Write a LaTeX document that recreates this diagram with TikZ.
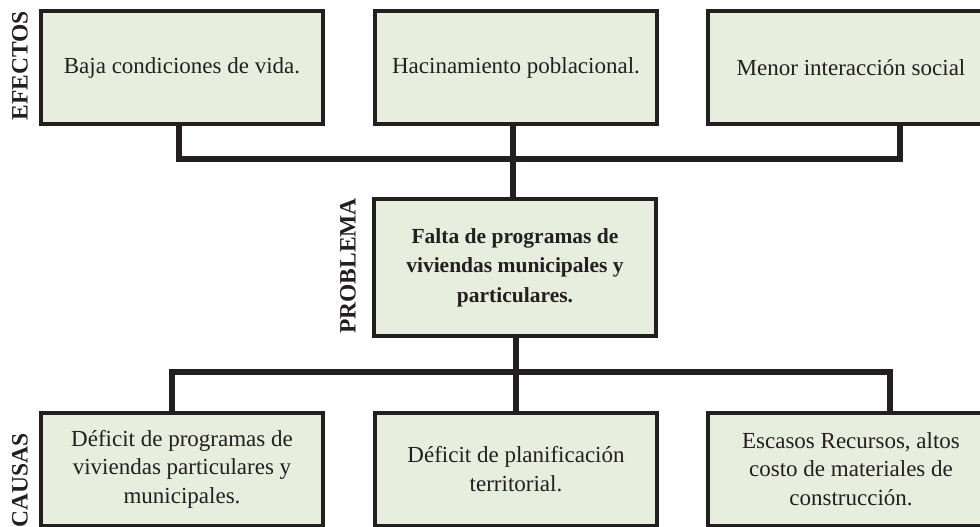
\documentclass[tikz,border=0pt]{standalone}
\usepackage{fontspec}
\setmainfont{Liberation Serif}
\definecolor{boxfill}{RGB}{232,238,222}
\definecolor{ink}{RGB}{35,31,32}
\tikzset{
  box/.style={draw=ink, line width=4pt, fill=boxfill, minimum width=282pt, minimum height=113pt,
    inner sep=0pt, align=center, text=ink, font=\fontsize{23}{28.5}\selectfont},
  probbox/.style={box, minimum height=137pt, font=\bfseries\fontsize{21.5}{29.5}\selectfont},
  conn/.style={draw=ink, line width=6pt, line join=miter},
  connshadow/.style={draw=black, opacity=0.12, line width=6pt, line join=miter},
  sidelabel/.style={rotate=90, inner sep=0pt, text=ink, font=\bfseries\fontsize{23.5}{27}\selectfont},
}
\begin{document}
\begin{tikzpicture}[x=1pt,y=-1pt]
\clip (0,0) rectangle (980,527);

% junction coordinates
\coordinate (a1) at (179,159);
\coordinate (jt) at (513,159);
\coordinate (a3) at (900,159);
\coordinate (b1) at (172,372);
\coordinate (jb) at (516,372);
\coordinate (b3) at (890,372);

% boxes (positions only, drawn later)
\path
  node[box] (e1) at (182,67.5) {Baja condiciones de vida.}
  node[box] (e2) at (516,67.5) {Hacinamiento poblacional.}
  node[box, minimum width=287pt] (e3) at (851,67.5) {Menor interacción social}
  node[probbox] (prob) at (515,267.5) {Falta de programas de\\ viviendas municipales y\\ particulares.}
  node[box] (c1) at (182,469) {Déficit de programas de\\ viviendas particulares y\\ municipales.}
  node[box] (c2) at (516,469) {Déficit de planificación\\ territorial.}
  node[box, minimum width=287pt] (c3) at (851,469) {Escasos Recursos, altos\\ costo de materiales de\\ construcción.};

% connector shadows
\begin{scope}[shift={(1.5,4)}]
  \draw[connshadow] (a1) -- (a3);
  \draw[connshadow] (b1) -- (b3);
\end{scope}

% connectors
\draw[conn] (e1.south -| a1) -- (a1) -- (a3) -- (e3.south -| a3);
\draw[conn] (e2.south -| jt) -- (prob.north -| jt);
\draw[conn] (c1.north -| b1) -- (b1) -- (b3) -- (c3.north -| b3);
\draw[conn] (prob.south -| jb) -- (c2.north -| jb);

% redraw boxes on top
\node[box] at (e1) {Baja condiciones de vida.};
\node[box] at (e2) {Hacinamiento poblacional.};
\node[box, minimum width=287pt] at (e3) {Menor interacción social};
\node[probbox] at (prob) {Falta de programas de\\ viviendas municipales y\\ particulares.};
\node[box] at (c1) {Déficit de programas de\\ viviendas particulares y\\ municipales.};
\node[box] at (c2) {Déficit de planificación\\ territorial.};
\node[box, minimum width=287pt] at (c3) {Escasos Recursos, altos\\ costo de materiales de\\ construcción.};

% side labels
\node[sidelabel] (lefe) at (20,66) {EFECTOS};
\node[sidelabel] (lprob) at (348,266) {PROBLEMA};
\node[sidelabel] (lcau) at (20,480) {CAUSAS};
\end{tikzpicture}
\end{document}
